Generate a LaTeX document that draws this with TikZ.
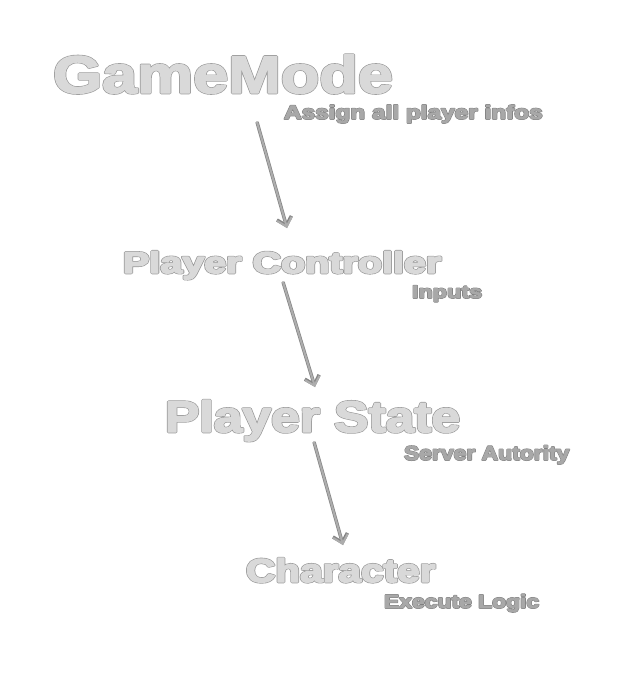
\documentclass[tikz,border=0pt]{standalone}
\usepackage{fontspec}
\usepackage{graphicx}
\setmainfont{Liberation Sans}[BoldFont={Liberation Sans Bold}]
\usetikzlibrary{arrows.meta}
\definecolor{arrowfill}{HTML}{ADADAD}
\definecolor{arrowedge}{HTML}{858585}
% outlined heavy text: #1 inner stroke, #2 outer stroke, #3 fill gray, #4 edge gray, #5 xscale, #6 text
\newcommand\hvtxt[6]{\scalebox{#5}[1]{\rlap{\special{pdf:literal direct 1 j 2 Tr #2 w #4 g #4 G}#6}\special{pdf:literal direct 1 j 2 Tr #1 w #3 g #3 G}#6\special{pdf:literal direct 0 Tr 0 j}}}
\newcommand\titletxt[2]{\hvtxt{1.4}{2.6}{0.85}{0.60}{#1}{#2}}
\newcommand\notetxt[2]{\hvtxt{0.6}{1.6}{0.66}{0.50}{#1}{#2}}
\tikzset{
  lbl/.style={anchor=base west, inner sep=0pt, outer sep=0pt, font=\bfseries},
  flow/.style={draw=arrowfill, line width=2pt, line cap=round,
    -{Straight Barb[length=8pt,width=15pt]},
    preaction={draw=arrowedge, line width=3.4pt, -{Straight Barb[length=8pt,width=15pt]}}}
}
\begin{document}
\begin{tikzpicture}[x=1pt,y=-1pt]
\fill[white] (0,0) rectangle (619,686);
\useasboundingbox (0,0) rectangle (619,686);
\node[lbl] (gm) at (53,93) {\fontsize{53}{53}\selectfont\titletxt{1.19}{GameMode}};
\node[lbl] (gmlbl) at (284,119) {\fontsize{19.5}{19.5}\selectfont\notetxt{1.25}{Assign all player infos}};
\node[lbl] (pc) at (123,273) {\fontsize{30}{30}\selectfont\titletxt{1.317}{Player Controller}};
\node[lbl] (pclbl) at (412,298) {\fontsize{18}{18}\selectfont\notetxt{1.3}{Inputs}};
\node[lbl] (ps) at (165,432) {\fontsize{44}{44}\selectfont\titletxt{1.172}{Player State}};
\node[lbl] (pslbl) at (404,460) {\fontsize{20}{20}\selectfont\notetxt{1.145}{Server Autority}};
\node[lbl] (ch) at (246,582) {\fontsize{33}{33}\selectfont\titletxt{1.23}{Character}};
\node[lbl] (chlbl) at (384,608) {\fontsize{19}{19}\selectfont\notetxt{1.205}{Execute Logic}};
\coordinate (a1s) at (257,122);
\coordinate (a1e) at (287,228);
\coordinate (a2s) at (283,282);
\coordinate (a2e) at (315,387);
\coordinate (a3s) at (314,442);
\coordinate (a3e) at (343,545);
\draw[flow] (a1s) -- (a1e);
\draw[flow] (a2s) -- (a2e);
\draw[flow] (a3s) -- (a3e);
\end{tikzpicture}
\end{document}
